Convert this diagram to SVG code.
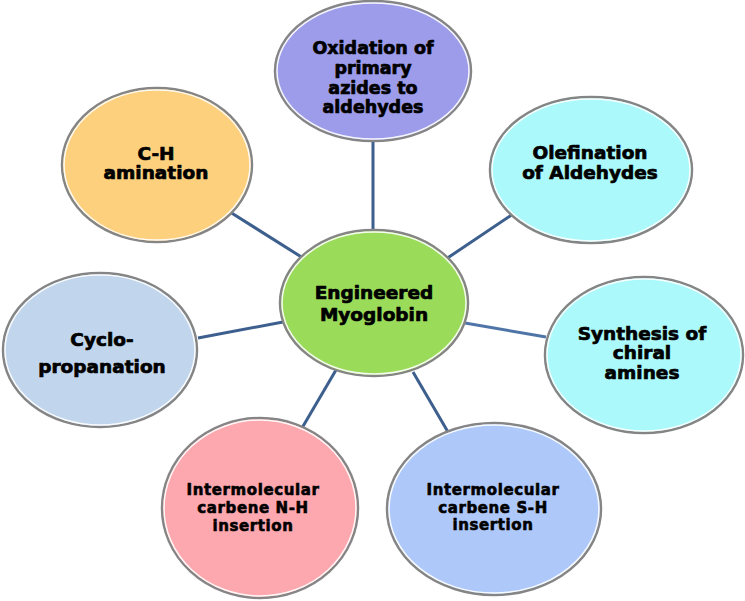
<svg xmlns="http://www.w3.org/2000/svg" width="745" height="601" viewBox="0 0 745 601">
<style>
.bub{stroke:#858585;stroke-width:2.5}
.hl{fill:none;stroke:#ffffff;stroke-width:1.5;opacity:0.9}
.t{font-family:"DejaVu Sans","Liberation Sans",sans-serif;font-weight:bold;fill:#000;stroke:#000;stroke-width:0.7;stroke-linejoin:round;text-anchor:middle}
.big{font-size:18.5px}
.mid{font-size:17.5px}
.sm{font-size:15px;letter-spacing:0.6px;stroke-width:0.6}
.c{stroke:#3d5f8e;stroke-width:3;fill:none}
</style>
<rect width="745" height="601" fill="#ffffff"/>
<g id="connectors">
<line class="c" x1="373" y1="141" x2="373" y2="231"/>
<line class="c" x1="230" y1="212" x2="303" y2="258"/>
<line class="c" x1="513" y1="214" x2="446" y2="259"/>
<line class="c" x1="465" y1="323" x2="546" y2="337" style="stroke:#4f74a8"/>
<line class="c" x1="198" y1="338" x2="283" y2="322"/>
<line class="c" x1="302" y1="428" x2="336" y2="370"/>
<line class="c" x1="448" y1="432" x2="413" y2="372"/>
</g>
<g id="oxidation">
<ellipse class="bub" cx="373" cy="71" rx="98" ry="70" fill="#9c9cea"/>
<ellipse class="hl" cx="373" cy="71" rx="96" ry="68"/>
<text class="t mid" x="373" y="54">Oxidation of</text>
<text class="t mid" x="373" y="74">primary</text>
<text class="t mid" x="373" y="93.5">azides to</text>
<text class="t mid" x="373" y="113">aldehydes</text>
</g>
<g id="ch-amination">
<ellipse class="bub" cx="157" cy="165" rx="95" ry="77" fill="#fdd07e"/>
<ellipse class="hl" cx="157" cy="165" rx="93" ry="75"/>
<text class="t big" x="156" y="160">C-H</text>
<text class="t big" x="156" y="179">amination</text>
</g>
<g id="olefination">
<ellipse class="bub" cx="591" cy="170" rx="101" ry="73" fill="#abf9fb"/>
<ellipse class="hl" cx="591" cy="170" rx="99" ry="71"/>
<text class="t big" x="590" y="159">Olefination</text>
<text class="t big" x="590" y="179">of Aldehydes</text>
</g>
<g id="myoglobin">
<ellipse class="bub" cx="374" cy="303" rx="94" ry="73" fill="#9bdb5a"/>
<ellipse class="hl" cx="374" cy="303" rx="92" ry="71"/>
<text class="t big" x="374" y="299">Engineered</text>
<text class="t big" x="374" y="321">Myoglobin</text>
</g>
<g id="cyclopropanation">
<ellipse class="bub" cx="100" cy="350" rx="97" ry="77" fill="#c1d6ed"/>
<ellipse class="hl" cx="100" cy="350" rx="95" ry="75"/>
<text class="t big" x="102" y="346">Cyclo-</text>
<text class="t big" x="102" y="373">propanation</text>
</g>
<g id="chiral-amines">
<ellipse class="bub" cx="644" cy="355" rx="99" ry="78" fill="#abf9fb"/>
<ellipse class="hl" cx="644" cy="355" rx="97" ry="76"/>
<text class="t big" x="642" y="340">Synthesis of</text>
<text class="t big" x="642" y="359">chiral</text>
<text class="t big" x="642" y="379">amines</text>
</g>
<g id="nh-insertion">
<ellipse class="bub" cx="260" cy="508" rx="98" ry="90" fill="#fda7ae"/>
<ellipse class="hl" cx="260" cy="508" rx="96" ry="88"/>
<text class="t sm" x="253" y="495">Intermolecular</text>
<text class="t sm" x="253" y="513">carbene N-H</text>
<text class="t sm" x="253" y="531">insertion</text>
</g>
<g id="sh-insertion">
<ellipse class="bub" cx="494" cy="509" rx="107" ry="86" fill="#aec9f9"/>
<ellipse class="hl" cx="494" cy="509" rx="105" ry="84"/>
<text class="t sm" x="493" y="495">Intermolecular</text>
<text class="t sm" x="493" y="513">carbene S-H</text>
<text class="t sm" x="493" y="530">insertion</text>
</g>
</svg>
